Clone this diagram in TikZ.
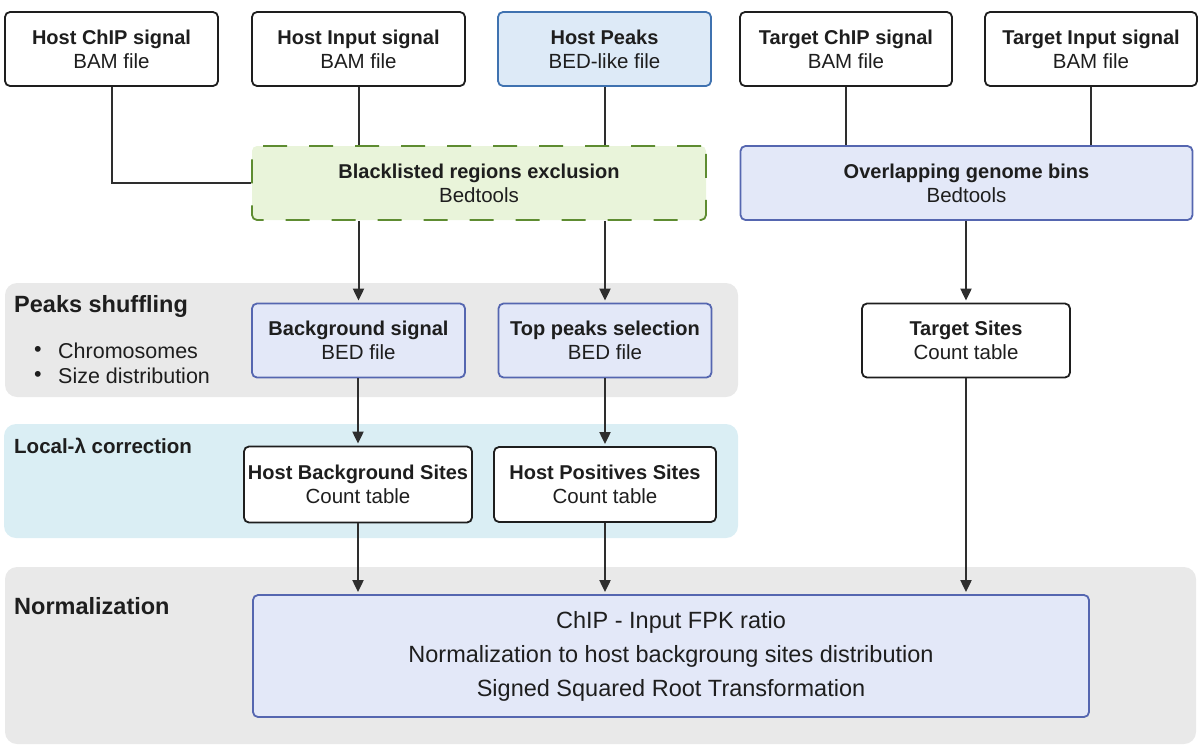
\documentclass[tikz,border=0pt]{standalone}
\usepackage{fontspec}
\setmainfont{Liberation Sans}
\usetikzlibrary{arrows.meta}
\definecolor{txt}{HTML}{1E1E1E}
\definecolor{ln}{HTML}{2E2E2E}
\definecolor{bandgray}{HTML}{E9E9E9}
\definecolor{bandcyan}{HTML}{DAEEF4}
\definecolor{bluefill}{HTML}{E3E8F8}
\definecolor{blueline}{HTML}{5566B0}
\definecolor{peakfill}{HTML}{DDEAF7}
\definecolor{peakline}{HTML}{3F72B0}
\definecolor{greenfill}{HTML}{E9F4DA}
\definecolor{greenline}{HTML}{5E8C31}
\newcommand\boxtext[2]{{\bfseries\fontsize{20}{24}\selectfont #1}\\{\fontsize{20.5}{24}\selectfont #2}}
\tikzset{
  box/.style={draw=txt, fill=white, line width=1.8pt, rounded corners=5pt, align=center,
    inner sep=0pt, text=txt, font=\fontsize{20.5}{24}\selectfont, minimum height=74pt},
  bluebox/.style={box, draw=blueline, fill=bluefill},
  peakbox/.style={box, draw=peakline, fill=peakfill},
  greenbox/.style={box, draw=greenline, fill=greenfill, dash pattern=on 24pt off 22pt},
  band/.style={rounded corners=12pt, draw=none},
  conn/.style={draw=ln, line width=2pt},
  arr/.style={conn, -{Stealth[length=12pt,width=11pt,inset=0pt]}, shorten >=2pt},
  sect/.style={anchor=west, text=txt, inner sep=0pt, font=\bfseries\fontsize{23.5}{28}\selectfont},
  bul/.style={anchor=west, text=txt, inner sep=0pt, font=\fontsize{21.5}{26}\selectfont},
}
\begin{document}
\begin{tikzpicture}[x=1pt,y=-1pt]
\useasboundingbox (0,0) rectangle (1203,753);
% bands
\fill[band, bandgray] (5,283) rectangle (738,397);
\fill[band, bandcyan] (4,424) rectangle (738,538);
\fill[band, bandgray] (5,567) rectangle (1196,744);
% section labels
\node[sect] (lpeaks) at (14,306) {Peaks shuffling};
\node[bul] (b1) at (34,351) {•};
\node[bul] (t1) at (58,351) {Chromosomes};
\node[bul] (b2) at (34,376) {•};
\node[bul] (t2) at (58,376) {Size distribution};
\node[sect, font=\bfseries\fontsize{20.5}{24}\selectfont] (llocal) at (14,446) {Local-λ correction};
\node[sect] (lnorm) at (14,606) {Normalization};
% top row
\node[box, minimum width=213pt] (hchip) at (111.5,49) {\boxtext{Host ChIP signal}{BAM file}};
\node[box, minimum width=213pt] (hinput) at (358.5,49) {\boxtext{Host Input signal}{BAM file}};
\node[peakbox, minimum width=213pt] (hpeaks) at (604.5,49) {\boxtext{Host Peaks}{BED-like file}};
\node[box, minimum width=212pt] (tchip) at (846,49) {\boxtext{Target ChIP signal}{BAM file}};
\node[box, minimum width=212pt] (tinput) at (1091,49) {\boxtext{Target Input signal}{BAM file}};
% second row
\node[greenbox, minimum width=454pt] (black) at (479,183) {\boxtext{Blacklisted regions exclusion}{Bedtools}};
\node[bluebox, minimum width=452pt] (overlap) at (966.5,183) {\boxtext{Overlapping genome bins}{Bedtools}};
% third row
\node[bluebox, minimum width=213pt] (bgsig) at (358.5,340.5) {\boxtext{Background signal}{BED file}};
\node[bluebox, minimum width=213pt] (toppk) at (605,340.5) {\boxtext{Top peaks selection}{BED file}};
\node[box, minimum width=208pt] (tsites) at (966,340.5) {\boxtext{Target Sites}{Count table}};
% fourth row
\node[box, minimum width=228pt, minimum height=76pt] (hbg) at (358,484.5) {\boxtext{Host Background Sites}{Count table}};
\node[box, minimum width=222pt, minimum height=75pt] (hpos) at (605,484.5) {\boxtext{Host Positives Sites}{Count table}};
% normalization
\node[bluebox, minimum width=836pt, minimum height=122pt, font=\fontsize{23.5}{34}\selectfont] (norm) at (671,656)
  {ChIP - Input FPK ratio\\Normalization to host backgroung sites distribution\\Signed Squared Root Transformation};
% connectors
\draw[conn] (hchip.south) |- (black.west);
\draw[conn] (hinput.south) -- (hinput.south |- black.north);
\draw[conn] (hpeaks.south) -- (hpeaks.south |- black.north);
\draw[conn] (tchip.south) -- (tchip.south |- overlap.north);
\draw[conn] (tinput.south) -- (tinput.south |- overlap.north);
\draw[arr] (black.south -| bgsig.north) -- (bgsig.north);
\draw[arr] (black.south -| toppk.north) -- (toppk.north);
\draw[arr] (overlap.south -| tsites.north) -- (tsites.north);
\draw[arr] (bgsig.south -| hbg.north) -- (hbg.north);
\draw[arr] (toppk.south -| hpos.north) -- (hpos.north);
\draw[arr] (hbg.south) -- (hbg.south |- norm.north);
\draw[arr] (hpos.south) -- (hpos.south |- norm.north);
\draw[arr] (tsites.south) -- (tsites.south |- norm.north);
\end{tikzpicture}
\end{document}
